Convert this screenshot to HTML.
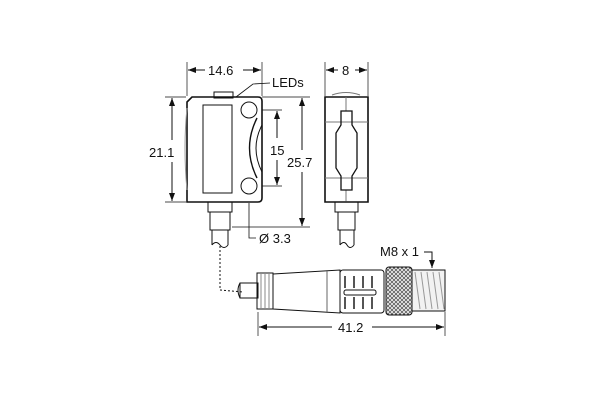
<!DOCTYPE html>
<html><head><meta charset="utf-8"><style>
html,body{margin:0;padding:0;background:#fff;width:600px;height:400px;overflow:hidden}
svg{display:block}
text{font-family:"Liberation Sans",sans-serif;font-size:13px;fill:#111}
</style></head><body>
<svg width="600" height="400" viewBox="0 0 600 400" xmlns="http://www.w3.org/2000/svg">
<defs>
<marker id="a" markerWidth="8" markerHeight="6" refX="8" refY="3" orient="auto"><path d="M0,0 L8,3 L0,6 z" fill="#111"/></marker>
<pattern id="k" width="4" height="4" patternUnits="userSpaceOnUse"><rect width="4" height="4" fill="#555"/><path d="M0,0 L4,4 M4,0 L0,4" stroke="#eee" stroke-width="0.9"/></pattern>
</defs>
<g fill="none" stroke="#111" stroke-width="1">
<path d="M192,97 L258,97 Q262,97 262,101 L262,198 Q262,202 258,202 L187,202 L187,102 Z" stroke-width="1.6"/>
<rect x="203" y="105" width="29" height="88"/>
<rect x="214" y="92" width="19" height="6"/>
<circle cx="249" cy="110" r="8"/>
<circle cx="249" cy="186" r="8"/>
<path d="M257,118 Q242,148 257,178" stroke-width="1.4"/>
<path d="M262,125 Q250,148 262,172"/>
<path d="M187,108 Q183,148 187,190" stroke="#999"/>
<rect x="208" y="202" width="24" height="10"/>
<rect x="210" y="212" width="20" height="18"/>
<path d="M212,230 L212,245 M228,230 L228,245" />
<path d="M212,245 Q216,240 220,245 Q224,250 228,245"/>
<path d="M187,62 L187,96 M262,62 L262,96" stroke-width="0.7"/>
<path d="M205,70 L188,70" marker-end="url(#a)"/>
<path d="M243,70 L261,70" marker-end="url(#a)"/>
<path d="M165,97 L186,97 M165,202 L186,202" stroke-width="0.7"/>
<path d="M172,140 L172,98" marker-end="url(#a)"/>
<path d="M172,162 L172,201" marker-end="url(#a)"/>
<path d="M262,110 L282,110 M262,186 L282,186" stroke-width="0.7"/>
<path d="M277,138 L277,111" marker-end="url(#a)"/>
<path d="M277,160 L277,185" marker-end="url(#a)"/>
<path d="M262,97 L310,97 M232,227 L310,227" stroke-width="0.7"/>
<path d="M302,150 L302,98" marker-end="url(#a)"/>
<path d="M302,172 L302,226" marker-end="url(#a)"/>
<path d="M270,83 L253,84 L236,97" stroke-width="0.8"/>
<path d="M249,203 L249,238 L256,238" stroke-width="0.8"/>
<path d="M325,97 L368,97 L368,202 L325,202 Z" stroke-width="1.6"/>
<path d="M325,122 L368,122 M325,178 L368,178 M346,97 L346,111 M346,190 L346,202" stroke="#777"/>
<path d="M341,111 L352,111 L352,125 L357,133 L357,168 L352,176 L352,190 L341,190 L341,176 L336,168 L336,133 L341,125 Z" stroke-width="1.3"/>
<path d="M332,95 Q346,90 360,95" stroke="#777"/>
<rect x="335" y="202" width="23" height="10"/>
<rect x="338" y="212" width="17" height="18"/>
<path d="M340,230 L340,245 M354,230 L354,245 M340,245 Q344,240 347,245 Q350,250 354,245"/>
<path d="M325,62 L325,96 M368,62 L368,96" stroke-width="0.7"/>
<path d="M338,70 L326,70" marker-end="url(#a)"/>
<path d="M355,70 L367,70" marker-end="url(#a)"/>
<path d="M220,246 L220,290 L243,292" stroke-dasharray="2,2"/>
<rect x="240" y="283" width="18" height="15"/>
<path d="M240,283 Q236,290 240,298"/>
<rect x="257" y="273" width="16" height="36"/>
<path d="M261,273 L261,309 M265,273 L265,309 M269,273 L269,309" stroke="#888"/>
<path d="M273,274 L340,270 L340,313 L273,309 Z"/>
<path d="M327,271 L327,312" stroke="#666"/>
<rect x="340" y="270" width="44" height="43" rx="3"/>
<path d="M345,276 L345,288 M354,276 L354,288 M363,276 L363,288 M372,276 L372,288 M345,297 L345,309 M354,297 L354,309 M363,297 L363,309 M372,297 L372,309" stroke="#555" stroke-width="2"/>
<rect x="344" y="290" width="32" height="5" rx="2"/>
<rect x="386" y="267" width="26" height="48" rx="3" fill="url(#k)"/>
<rect x="412" y="270" width="33" height="41" fill="#f2f2f2"/>
<path d="M415,272 L420,309 M421,272 L426,309 M427,272 L432,309 M433,272 L438,309 M439,272 L444,309" stroke="#999"/>
<path d="M258,312 L258,336 M445,312 L445,336" stroke-width="0.7"/>
<path d="M332,327 L259,327" marker-end="url(#a)"/>
<path d="M372,327 L444,327" marker-end="url(#a)"/>
<path d="M424,252 L432,252 L432,268" marker-end="url(#a)"/>
</g>
<text x="208" y="75">14.6</text>
<text x="272" y="87">LEDs</text>
<text x="149" y="157">21.1</text>
<text x="270" y="155">15</text>
<text x="287" y="167">25.7</text>
<text x="259" y="243">Ø 3.3</text>
<text x="342" y="75">8</text>
<text x="380" y="256">M8 x 1</text>
<text x="338" y="332">41.2</text>
</svg>
</body></html>
